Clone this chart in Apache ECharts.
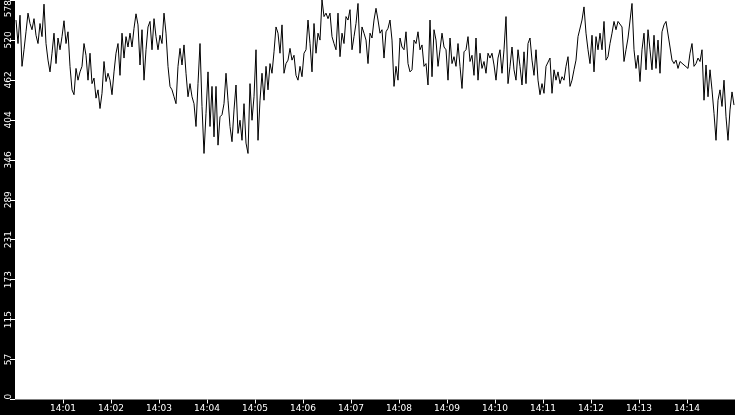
<!DOCTYPE html>
<html>
<head>
<meta charset="utf-8">
<script src="https://cdn.jsdelivr.net/npm/echarts@6/dist/echarts.min.js"></script>
<style>
html,body{margin:0;padding:0;background:#000;}
#chart{width:735px;height:415px;}
</style>
</head>
<body>
<div id="chart"></div>
<script>
// Time axis: seconds after 14:00:00, one sample every 2.5 s
const startSecond = 1.25;
const stepSeconds = 2.5;
const axisMinSecond = 0;
const axisMaxSecond = 900;
const tickSeconds = 60;

// Y axis
const yMax = 578;
const yTickCount = 10;

// Series values
const seg01 = [549,515,556,482,506,532,559,544,535,551,527,515,544,525,572,515,491,474,501,530,486,523,506,525,548,515,532,482,448,441,479,462];
const seg02 = [474,482,515,498,462,501,457,465,436,448,421,443,489,460,472,462,441,474,501,515,469,530,494,525,510,530,510,537,558,542,484,535,462];
const seg03 = [506,539,547,506,551,525,506,527,515,559,530,482,453,448,438,428,482,508,484,513,472,438,457,438,428,395,457,515,424,356,414,474,395];
const seg04 = [453,380,453,368,409,412,428,472,433,395,373,419,455,385,404,375,428,371,356,457,404,438,506,375,433,472,433,482,448,486,472,503,539];
const seg05 = [530,501,542,472,486,491,508,491,498,469,462,482,467,501,506,549,515,474,544,501,530,520,578,554,559,551,559,525,515,506,559,496,530];
const seg06 = [515,554,549,564,506,525,544,573,501,539,530,520,486,530,523,549,566,549,530,535,494,532,537,549,520,453,482,462,523,510,506,532,486];
const seg07 = [474,477,520,515,532,506,513,482,486,455,549,467,535,520,482,506,530,510,506,462,523,486,496,482,515,482,450,503,506,525,489,498,469];
const seg08 = [523,462,501,479,489,472,501,494,501,484,462,494,506,472,506,554,457,482,510,477,462,506,482,455,503,457,515,523,491,469,506,462,441];
const seg09 = [457,443,482,484,494,443,477,462,474,457,467,462,482,496,453,462,477,491,525,527,549,568,530,506,486,527,474,525,506,530,506,547,491];
const seg10 = [496,515,530,547,535,547,549,539,489,506,523,525,573,506,479,498,460,506,530,477,535,506,477,527,479,520,472,532,542,547,549,510,491];
const seg11 = [486,491,479,489,489,484,486,479,501,515,482,486,494,489,506,433,484,438,477,448,414,375,433,448,424,462,409,375,419,445,426];

const values = [].concat(seg01,seg02,seg03,seg04,seg05,seg06,seg07,seg08,seg09,seg10,seg11);
const seriesData = values.map((v, i) => [startSecond + i * stepSeconds, v]);

const pad = n => (n < 10 ? '0' : '') + n;
const fontFamily = '"DejaVu Sans", Verdana, sans-serif';

const chart = echarts.init(document.getElementById('chart'), null, {renderer: 'canvas'});
chart.setOption({
  backgroundColor: '#000',
  animation: false,
  grid: {
    left: 15, right: 0, top: 0, bottom: 15.5,
    containLabel: false, outerBoundsMode: 'none',
    show: true, backgroundColor: '#fff', borderWidth: 0
  },
  xAxis: {
    type: 'value',
    min: axisMinSecond, max: axisMaxSecond, interval: tickSeconds,
    axisLine: {show: false},
    axisTick: {show: true, length: 4, lineStyle: {color: '#fff', width: 1}},
    splitLine: {show: false},
    axisLabel: {
      color: '#fff', fontSize: 9, fontFamily: fontFamily, margin: 5,
      showMinLabel: false, showMaxLabel: false,
      formatter: s => '14:' + pad(Math.round(s / 60))
    }
  },
  yAxis: {
    type: 'value',
    min: 0, max: yMax, interval: yMax / yTickCount,
    axisLine: {show: false},
    axisTick: {show: true, length: 5, lineStyle: {color: '#fff', width: 1}},
    splitLine: {show: false},
    axisLabel: {
      color: '#fff', fontSize: 9, fontFamily: fontFamily, rotate: 90, margin: 2,
      alignMinLabel: 'left', alignMaxLabel: 'right',
      formatter: v => String(Math.floor(v + 1e-6))
    }
  },
  series: [{
    type: 'line',
    data: seriesData,
    showSymbol: false,
    symbol: 'none',
    lineStyle: {color: '#000', width: 1},
    silent: true
  }]
});
</script>
</body>
</html>
